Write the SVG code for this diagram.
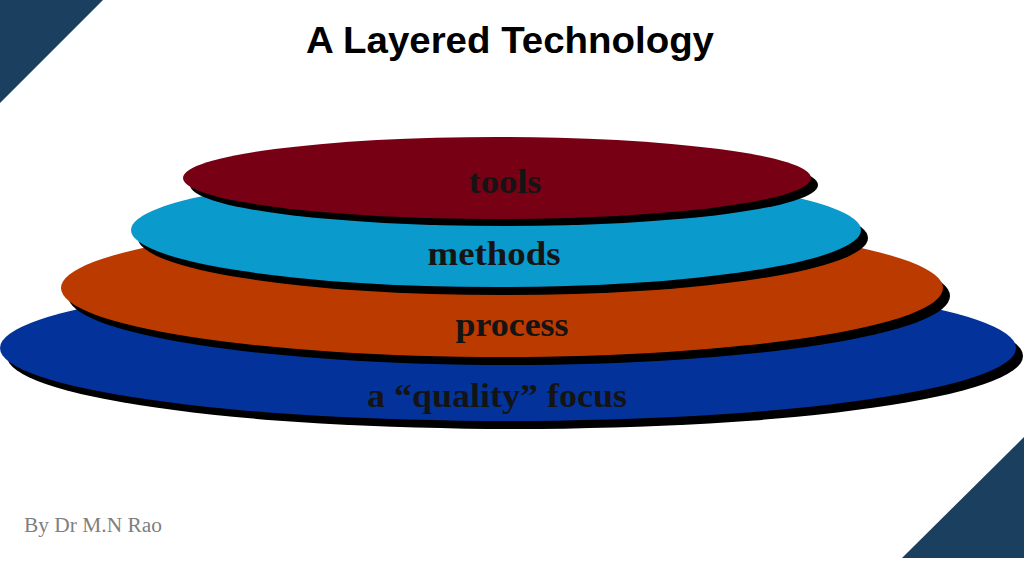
<svg xmlns="http://www.w3.org/2000/svg" width="1024" height="576" viewBox="0 0 1024 576">
  <style>
    .corner { fill: #1b405f; }
    .shadow { fill: #000000; }
    .lbl { font-family: "Liberation Serif", "DejaVu Serif", serif; font-weight: bold; fill: #141414; text-anchor: middle; }
    .title { font-family: "Liberation Sans", Arial, sans-serif; font-weight: bold; font-size: 37px; fill: #000000; text-anchor: middle; }
    .credit { font-family: "Liberation Serif", "DejaVu Serif", serif; font-size: 20px; fill: #7f7f7f; }
  </style>
  <rect width="1024" height="576" fill="#ffffff"/>
  <polygon class="corner" points="0,0 103,0 0,103"/>
  <polygon class="corner" points="1024,437 1024,558 902,558"/>
  <text class="title" x="510" y="53" textLength="408" lengthAdjust="spacingAndGlyphs">A Layered Technology</text>

  <g id="layer-quality">
    <ellipse class="shadow" cx="515" cy="356" rx="508" ry="73"/>
    <ellipse cx="508" cy="348" rx="508" ry="73" fill="#03339a"/>
    <text class="lbl" x="497" y="407" font-size="33" textLength="260" lengthAdjust="spacingAndGlyphs">a “quality” focus</text>
  </g>
  <g id="layer-process">
    <ellipse class="shadow" cx="509" cy="296" rx="441" ry="69"/>
    <ellipse cx="502" cy="288" rx="441" ry="69" fill="#bb3a00"/>
    <text class="lbl" x="512" y="336" font-size="34" textLength="113" lengthAdjust="spacingAndGlyphs">process</text>
  </g>
  <g id="layer-methods">
    <ellipse class="shadow" cx="503" cy="238" rx="365" ry="57"/>
    <ellipse cx="496" cy="230" rx="365" ry="57" fill="#0a9acc"/>
    <text class="lbl" x="494" y="265" font-size="34" textLength="133" lengthAdjust="spacingAndGlyphs">methods</text>
  </g>
  <g id="layer-tools">
    <ellipse class="shadow" cx="504" cy="185" rx="314" ry="41"/>
    <ellipse cx="497" cy="178" rx="314" ry="41" fill="#770015"/>
    <text class="lbl" x="505" y="193" font-size="33" textLength="73" lengthAdjust="spacingAndGlyphs">tools</text>
  </g>
  <g id="connectors"/>

  <text class="credit" x="24" y="532" textLength="138" lengthAdjust="spacingAndGlyphs">By Dr M.N Rao</text>
</svg>
